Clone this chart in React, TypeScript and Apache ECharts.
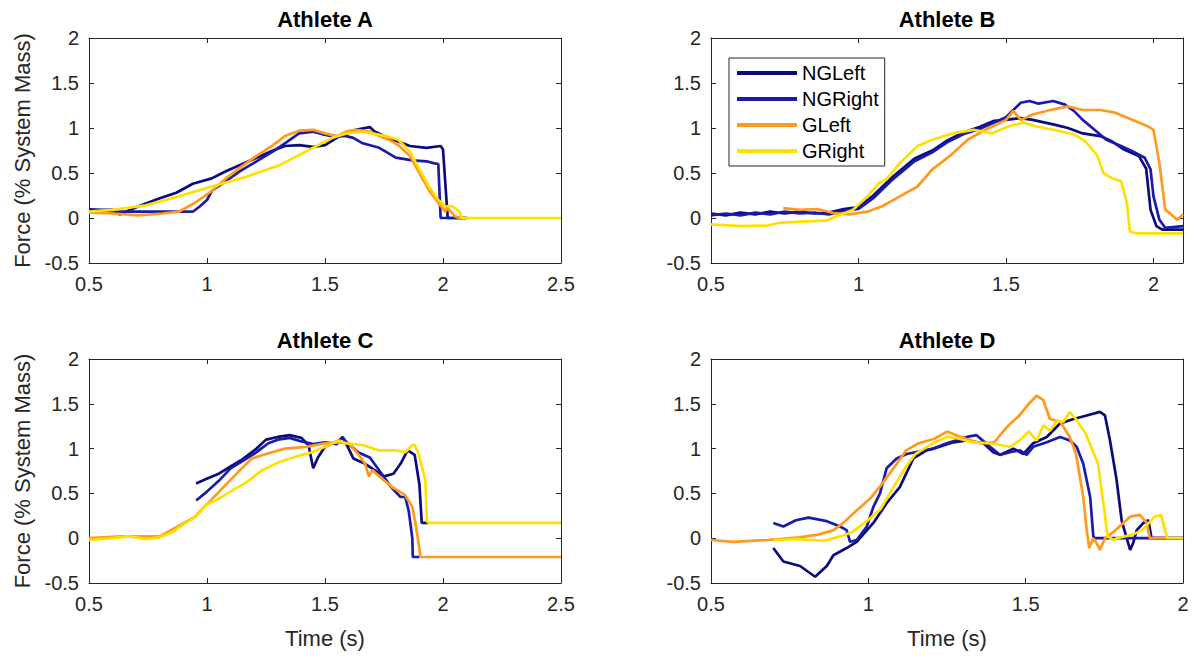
import React, { useEffect, useRef } from 'react';
import * as echarts from 'echarts';

type Pt = [number, number];

const seriesNames = ['NGLeft', 'NGRight', 'GLeft', 'GRight'];
const seriesColors = ['#0b0b7d', '#1b1bab', '#ff9a1f', '#ffe100'];
const panelTitles = ['Athlete A', 'Athlete B', 'Athlete C', 'Athlete D'];
const xMins = [0.5, 0.5, 0.5, 0.5];
const xMaxes = [2.5, 2.1, 2.5, 2.0];
const yMin = -0.5;
const yMax = 2;
const yLabel = 'Force (% System Mass)';
const xLabel = 'Time (s)';

// Athlete A
const aNGLeft: Pt[] = [[0.5,0.09],[0.6,0.09],[0.63,0.04],[0.71,0.13],[0.8,0.22],[0.87,0.28],[0.94,0.38],[1.02,0.44],[1.08,0.52],[1.14,0.59],[1.21,0.67],[1.28,0.75],[1.33,0.8],[1.39,0.81],[1.45,0.79],[1.5,0.81],[1.55,0.89],[1.59,0.94],[1.63,0.98],[1.69,1.01],[1.71,0.96],[1.77,0.89],[1.81,0.85],[1.86,0.8],[1.93,0.78],[1.99,0.8],[2.0,0.76],[2.02,0],[2.1,0]];
const aNGRight: Pt[] = [[0.5,0.1],[0.6,0.07],[0.74,0.07],[0.88,0.07],[0.94,0.07],[0.97,0.13],[1.0,0.2],[1.02,0.3],[1.08,0.41],[1.14,0.52],[1.21,0.63],[1.28,0.74],[1.33,0.83],[1.39,0.94],[1.45,0.96],[1.49,0.93],[1.53,0.91],[1.59,0.91],[1.62,0.89],[1.66,0.83],[1.73,0.78],[1.8,0.67],[1.87,0.64],[1.93,0.63],[1.96,0.61],[1.98,0.6],[1.99,0],[2.1,0]];
const aGLeft: Pt[] = [[0.5,0.06],[0.6,0.05],[0.71,0.03],[0.81,0.05],[0.88,0.07],[0.95,0.17],[1.02,0.3],[1.08,0.44],[1.14,0.56],[1.21,0.69],[1.28,0.81],[1.33,0.91],[1.39,0.97],[1.45,0.98],[1.5,0.94],[1.55,0.91],[1.59,0.96],[1.63,0.98],[1.69,0.96],[1.73,0.91],[1.77,0.87],[1.81,0.81],[1.86,0.69],[1.9,0.5],[1.94,0.31],[1.98,0.17],[2.01,0.07],[2.02,0.11],[2.05,0.02],[2.07,0],[2.1,0]];
const aGRight: Pt[] = [[0.5,0.07],[0.6,0.09],[0.74,0.14],[0.88,0.24],[1.02,0.35],[1.17,0.46],[1.31,0.59],[1.45,0.78],[1.53,0.89],[1.59,0.94],[1.66,0.96],[1.7,0.94],[1.76,0.91],[1.81,0.87],[1.86,0.74],[1.9,0.54],[1.94,0.35],[1.98,0.2],[2.01,0.13],[2.04,0.13],[2.07,0.07],[2.08,0],[2.5,0]];

// Athlete B
const bNGLeft: Pt[] = [[0.5,0.05],[0.55,0.03],[0.6,0.06],[0.65,0.04],[0.7,0.07],[0.75,0.05],[0.8,0.07],[0.85,0.05],[0.9,0.06],[0.95,0.1],[1.0,0.12],[1.05,0.25],[1.12,0.47],[1.19,0.66],[1.25,0.75],[1.3,0.86],[1.355,0.95],[1.41,1.01],[1.46,1.08],[1.5,1.09],[1.55,1.11],[1.59,1.09],[1.66,1.04],[1.71,1.0],[1.76,0.94],[1.82,0.91],[1.86,0.85],[1.9,0.76],[1.95,0.69],[1.975,0.55],[1.99,0.09],[2.01,-0.09],[2.03,-0.13],[2.1,-0.13]];
const bNGRight: Pt[] = [[0.5,0.03],[0.55,0.05],[0.6,0.03],[0.65,0.06],[0.7,0.04],[0.75,0.07],[0.8,0.05],[0.85,0.06],[0.9,0.04],[0.95,0.08],[1.0,0.1],[1.05,0.22],[1.12,0.44],[1.19,0.63],[1.25,0.73],[1.3,0.84],[1.355,0.93],[1.41,0.99],[1.46,1.06],[1.5,1.12],[1.55,1.28],[1.58,1.3],[1.61,1.27],[1.66,1.3],[1.7,1.26],[1.73,1.19],[1.76,1.09],[1.8,0.98],[1.84,0.87],[1.89,0.8],[1.93,0.74],[1.97,0.67],[1.99,0.54],[2.0,0.24],[2.02,-0.02],[2.04,-0.11],[2.1,-0.09]];
const bGLeft: Pt[] = [[0.745,0.11],[0.8,0.09],[0.86,0.1],[0.915,0.055],[0.97,0.04],[1.03,0.07],[1.08,0.13],[1.14,0.24],[1.2,0.35],[1.25,0.54],[1.31,0.69],[1.37,0.87],[1.43,0.98],[1.5,1.09],[1.525,1.19],[1.55,1.09],[1.59,1.15],[1.65,1.2],[1.71,1.24],[1.76,1.2],[1.82,1.2],[1.87,1.17],[1.93,1.09],[1.98,1.02],[2.0,0.98],[2.02,0.61],[2.04,0.09],[2.06,0.04],[2.08,-0.02],[2.1,0.04]];
const bGRight: Pt[] = [[0.5,-0.07],[0.6,-0.09],[0.69,-0.085],[0.73,-0.055],[0.8,-0.04],[0.89,-0.03],[0.94,0.04],[0.98,0.09],[1.03,0.24],[1.07,0.39],[1.095,0.43],[1.14,0.61],[1.2,0.8],[1.25,0.87],[1.32,0.94],[1.39,0.98],[1.45,0.94],[1.51,1.02],[1.56,1.06],[1.6,1.02],[1.66,0.98],[1.73,0.93],[1.77,0.85],[1.81,0.69],[1.83,0.5],[1.86,0.44],[1.89,0.41],[1.91,0.17],[1.92,-0.15],[1.94,-0.17],[2.1,-0.17]];

// Athlete C
const cNGLeft: Pt[] = [[0.954,0.61],[0.996,0.66],[1.05,0.72],[1.1,0.8],[1.15,0.88],[1.21,1.0],[1.25,1.1],[1.3,1.13],[1.35,1.15],[1.4,1.12],[1.43,1.04],[1.45,0.78],[1.47,0.9],[1.5,1.02],[1.56,1.09],[1.575,1.13],[1.6,1.0],[1.62,0.89],[1.67,0.83],[1.71,0.76],[1.75,0.69],[1.79,0.72],[1.82,0.83],[1.85,0.98],[1.88,0.93],[1.9,0.6],[1.91,0.17],[1.94,0.17]];
const cNGRight: Pt[] = [[0.954,0.42],[1.0,0.52],[1.05,0.64],[1.1,0.78],[1.15,0.86],[1.21,0.96],[1.26,1.06],[1.3,1.1],[1.35,1.12],[1.4,1.08],[1.45,1.05],[1.5,1.07],[1.55,1.05],[1.575,1.12],[1.6,1.05],[1.64,0.96],[1.69,0.9],[1.74,0.72],[1.78,0.57],[1.82,0.46],[1.84,0.46],[1.855,0.3],[1.87,0.0],[1.872,-0.21],[1.9,-0.21]];
const cGLeft: Pt[] = [[0.5,0.0],[0.64,0.02],[0.8,0.02],[0.95,0.24],[0.98,0.33],[1.0,0.38],[1.07,0.57],[1.14,0.76],[1.19,0.89],[1.25,0.94],[1.33,1.0],[1.42,1.02],[1.5,1.06],[1.56,1.07],[1.6,1.06],[1.64,0.94],[1.67,0.83],[1.686,0.69],[1.7,0.76],[1.73,0.69],[1.785,0.57],[1.84,0.48],[1.87,0.35],[1.883,0.17],[1.897,-0.06],[1.904,-0.2],[1.91,-0.21],[2.5,-0.21]];
const cGRight: Pt[] = [[0.5,-0.02],[0.55,-0.01],[0.6,0.0],[0.67,0.02],[0.74,-0.01],[0.8,0.01],[0.855,0.07],[0.91,0.17],[0.954,0.24],[0.996,0.37],[1.05,0.44],[1.11,0.54],[1.165,0.62],[1.235,0.76],[1.306,0.85],[1.376,0.91],[1.446,0.96],[1.517,1.04],[1.559,1.09],[1.587,1.06],[1.658,1.04],[1.728,0.98],[1.8,0.98],[1.84,0.96],[1.87,1.04],[1.88,1.04],[1.897,0.94],[1.925,0.65],[1.932,0.19],[1.94,0.17],[2.5,0.17]];

// Athlete D
const dNGLeft: Pt[] = [[0.698,-0.11],[0.73,-0.26],[0.783,-0.31],[0.831,-0.43],[0.868,-0.31],[0.889,-0.19],[0.931,-0.11],[0.963,-0.04],[1.016,0.17],[1.058,0.39],[1.1,0.57],[1.143,0.89],[1.185,0.98],[1.207,1.0],[1.27,1.07],[1.313,1.09],[1.366,1.06],[1.397,0.96],[1.418,0.93],[1.461,1.0],[1.493,0.94],[1.524,1.06],[1.567,1.13],[1.609,1.28],[1.652,1.33],[1.694,1.37],[1.736,1.41],[1.752,1.37],[1.768,1.09],[1.789,0.65],[1.805,0.2],[1.821,0.0],[1.832,-0.13],[1.842,-0.05],[1.853,0.09],[1.874,0.17],[1.89,0.2],[1.9,0.0],[2.0,0.0]];
const dNGRight: Pt[] = [[0.698,0.17],[0.73,0.13],[0.77,0.2],[0.81,0.23],[0.868,0.19],[0.91,0.13],[0.931,0.09],[0.942,-0.04],[0.963,-0.02],[0.995,0.13],[1.016,0.35],[1.037,0.5],[1.058,0.78],[1.09,0.89],[1.122,0.94],[1.207,1.0],[1.249,1.06],[1.313,1.13],[1.344,1.15],[1.387,1.02],[1.418,0.93],[1.45,0.96],[1.482,0.98],[1.503,0.93],[1.524,1.02],[1.567,1.07],[1.609,1.13],[1.641,1.09],[1.662,1.02],[1.683,0.83],[1.705,0.46],[1.715,0.02],[1.72,0.0],[2.0,0.0]];
const dGLeft: Pt[] = [[0.5,-0.02],[0.57,-0.04],[0.68,-0.02],[0.78,0.01],[0.84,0.04],[0.89,0.09],[0.92,0.17],[0.96,0.3],[1.005,0.44],[1.04,0.59],[1.09,0.83],[1.12,0.98],[1.16,1.06],[1.21,1.11],[1.25,1.19],[1.28,1.15],[1.31,1.11],[1.355,1.06],[1.4,1.07],[1.44,1.24],[1.48,1.37],[1.51,1.5],[1.535,1.59],[1.556,1.54],[1.577,1.33],[1.61,1.3],[1.64,1.13],[1.66,0.94],[1.683,0.46],[1.694,0.09],[1.702,-0.11],[1.715,0.0],[1.725,-0.05],[1.736,-0.13],[1.752,0.0],[1.779,0.07],[1.832,0.24],[1.863,0.26],[1.885,0.17],[1.895,0.0],[1.95,0.0]];
const dGRight: Pt[] = [[0.7,-0.02],[0.78,-0.01],[0.86,-0.03],[0.91,0.02],[0.95,0.07],[0.995,0.19],[1.04,0.33],[1.08,0.57],[1.12,0.8],[1.15,0.94],[1.21,1.07],[1.25,1.13],[1.29,1.11],[1.33,1.07],[1.38,1.06],[1.42,1.04],[1.45,1.02],[1.48,1.09],[1.51,1.19],[1.535,1.09],[1.556,1.26],[1.577,1.2],[1.6,1.31],[1.62,1.3],[1.64,1.41],[1.66,1.33],[1.69,1.17],[1.73,0.83],[1.75,0.31],[1.76,0.02],[1.78,-0.02],[1.79,0.0],[1.84,0.04],[1.87,0.09],[1.91,0.24],[1.93,0.26],[1.94,0.13],[1.95,0.0],[2.0,0.0]];

const panelData: Pt[][][] = [
  [aNGLeft, aNGRight, aGLeft, aGRight],
  [bNGLeft, bNGRight, bGLeft, bGRight],
  [cNGLeft, cNGRight, cGLeft, cGRight],
  [dNGLeft, dNGRight, dGLeft, dGRight],
];

const FONT = 'Liberation Sans, Arial, Helvetica, sans-serif';
const AXIS = '#262626';

export default function App() {
  const ref = useRef<HTMLDivElement>(null);
  useEffect(() => {
    if (!ref.current) return;
    const chart = echarts.init(ref.current, undefined, { renderer: 'svg' });
    const grids = [
      { left: 89, top: 38, width: 472, height: 225 },
      { left: 711, top: 38, width: 472, height: 225 },
      { left: 89, top: 359, width: 472, height: 224 },
      { left: 711, top: 359, width: 472, height: 224 },
    ];
    const fmt = (v: number) => (Math.abs(v * 2 - Math.round(v * 2)) < 1e-6 ? String(Math.round(v * 10) / 10) : '');
    const lineCommon = { show: true, onZero: false, lineStyle: { color: AXIS, width: 1 } };
    const tickCommon = { show: true, inside: true, length: 5, lineStyle: { color: AXIS, width: 1 } };
    const xAxes: any[] = [];
    const yAxes: any[] = [];
    grids.forEach((_, i) => {
      xAxes.push({
        type: 'value', gridIndex: i, position: 'bottom', min: xMins[i], max: xMaxes[i], interval: 0.5,
        axisLine: lineCommon, axisTick: tickCommon, splitLine: { show: false },
        axisLabel: { show: true, margin: 11, fontSize: 20, color: AXIS, fontFamily: FONT, formatter: fmt },
        name: i >= 2 ? xLabel : '', nameLocation: 'middle', nameGap: 44,
        nameTextStyle: { fontSize: 22, color: AXIS, fontFamily: FONT },
      });
      yAxes.push({
        type: 'value', gridIndex: i, position: 'left', min: yMin, max: yMax, interval: 0.5,
        axisLine: lineCommon, axisTick: tickCommon, splitLine: { show: false },
        axisLabel: { show: true, margin: 10, fontSize: 20, color: AXIS, fontFamily: FONT, formatter: fmt },
        name: i % 2 === 0 ? yLabel : '', nameLocation: 'middle', nameGap: 56, nameRotate: 90,
        nameTextStyle: { fontSize: 22, color: AXIS, fontFamily: FONT },
      });
    });
    grids.forEach((_, i) => {
      xAxes.push({
        type: 'value', gridIndex: i, position: 'top', min: xMins[i], max: xMaxes[i], interval: 0.5,
        axisLine: lineCommon, axisTick: tickCommon, splitLine: { show: false }, axisLabel: { show: false },
      });
      yAxes.push({
        type: 'value', gridIndex: i, position: 'right', min: yMin, max: yMax, interval: 0.5,
        axisLine: lineCommon, axisTick: tickCommon, splitLine: { show: false }, axisLabel: { show: false },
      });
    });
    const series: any[] = [];
    panelData.forEach((lines, p) => {
      lines.forEach((data, k) => {
        series.push({
          type: 'line', name: seriesNames[k], xAxisIndex: p, yAxisIndex: p, data,
          showSymbol: false, symbol: 'none', clip: true, silent: true, z: 2 + k,
          color: seriesColors[k],
          lineStyle: { width: 2.7, color: seriesColors[k] },
          itemStyle: { color: seriesColors[k] },
        });
      });
    });
    const graphic = panelTitles.map((t, i) => ({
      type: 'text',
      x: grids[i].left + grids[i].width / 2,
      y: grids[i].top - 19,
      style: {
        text: t, font: `bold 22px ${FONT}`, fill: '#000',
        textAlign: 'center', textVerticalAlign: 'middle', align: 'center', verticalAlign: 'middle',
      },
    }));
    chart.setOption({
      animation: false,
      backgroundColor: '#ffffff',
      grid: grids.map((g) => ({ ...g, containLabel: false })),
      xAxis: xAxes,
      yAxis: yAxes,
      series,
      graphic,
      legend: {
        show: true, data: seriesNames, left: 729, top: 58, orient: 'vertical',
        icon: 'rect', itemWidth: 60, itemHeight: 4, itemGap: 6, padding: [5, 6, 5, 8],
        borderColor: AXIS, borderWidth: 1, backgroundColor: '#ffffff',
        textStyle: { fontSize: 20, color: '#000', fontFamily: FONT },
        selectedMode: false,
      },
    });
    return () => chart.dispose();
  }, []);
  return (
    <div
      ref={ref}
      style={{ position: 'fixed', left: 0, top: 0, width: 1195, height: 659, background: '#fff' }}
    />
  );
}
